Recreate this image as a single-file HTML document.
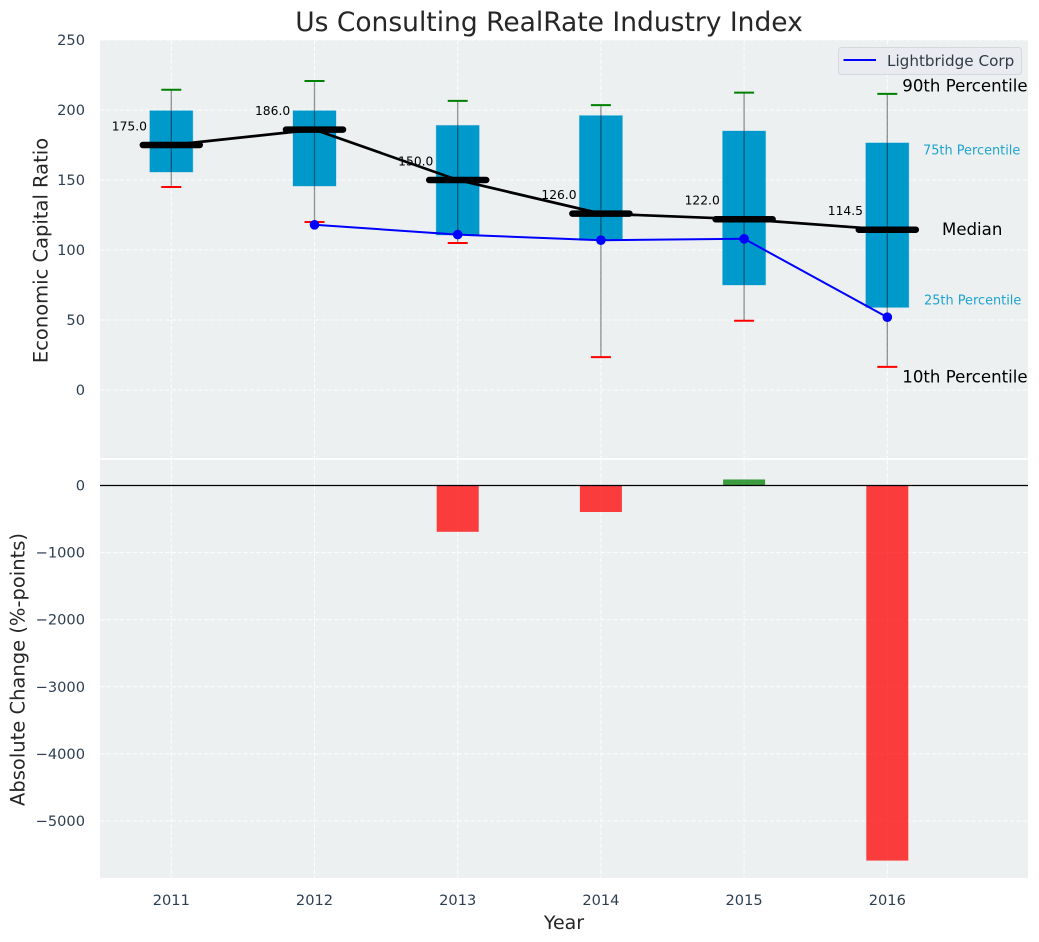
<!DOCTYPE html>
<html>
<head>
<meta charset="utf-8">
<style>
html,body{margin:0;padding:0;background:#fff;}
svg{display:block;}
text{font-family:"DejaVu Sans","Liberation Sans",sans-serif;}
</style>
</head>
<body>
<svg id="chart" xmlns="http://www.w3.org/2000/svg" width="1039" height="942" viewBox="0 0 1039 942"></svg>
<script>
const years = [2011, 2012, 2013, 2014, 2015, 2016];
const p90 = [214.5, 220.7, 206.5, 203.5, 212.4, 211.5];
const p75 = [199.5, 199.5, 189, 196, 185, 176.5];
const medians = [175, 186, 150, 126, 122, 114.5];
const p25 = [155.7, 145.7, 110.7, 107, 75, 59];
const p10 = [145, 120, 105, 23.5, 49.5, 16.5];
const companyYears = [2012, 2013, 2014, 2015, 2016];
const companyValues = [118, 111, 107, 108, 52];
const changeYears = [2013, 2014, 2015, 2016];
const changeValues = [-690, -395, 90, -5590];
const topTicks = [0, 50, 100, 150, 200, 250];
const bottomTicks = [0, -1000, -2000, -3000, -4000, -5000];

const svg = document.getElementById('chart');
const NS = 'http://www.w3.org/2000/svg';
const plotLeft = 100, plotRight = 1028;
const topTop = 40, topBottom = 458;
const botTop = 460, botBottom = 878;

function xScale(year) { return 171.3 + (year - 2011) * 143.2; }
function yTop(v) { return 390 - 1.4 * v; }
function yBottom(v) { return 485.5 - 0.0671 * v; }

function make(tag, attrs, text) {
  const el = document.createElementNS(NS, tag);
  for (const k in attrs) el.setAttribute(k, attrs[k]);
  if (text !== undefined) el.textContent = text;
  svg.appendChild(el);
  return el;
}
function fmtTick(v) { return v < 0 ? '\u2212' + Math.abs(v) : String(v); }

/* backgrounds */
let el = make('rect', {x: plotLeft, y: topTop, width: plotRight - plotLeft, height: topBottom - topTop, fill: '#ecf0f1'});


el = make('rect', {x: plotLeft, y: botTop, width: plotRight - plotLeft, height: botBottom - botTop, fill: '#ecf0f1'});



/* grid */
const gridStyle = {stroke: '#ffffff', 'stroke-width': 1, 'stroke-dasharray': '4.5,2', opacity: 0.9};
topTicks.forEach(function (t) {
  const g = make('line', Object.assign({x1: plotLeft, x2: plotRight, y1: yTop(t), y2: yTop(t)}, gridStyle));
  
  
  const l = make('text', {x: 85, y: yTop(t) + 5, 'text-anchor': 'end', 'font-size': 14.6, fill: '#2c3e50'}, fmtTick(t));
  
  
});
bottomTicks.forEach(function (t) {
  const g = make('line', Object.assign({x1: plotLeft, x2: plotRight, y1: yBottom(t), y2: yBottom(t)}, gridStyle));
  
  
  const l = make('text', {x: 85, y: yBottom(t) + 5, 'text-anchor': 'end', 'font-size': 14.6, fill: '#2c3e50'}, fmtTick(t));
  
  
});
years.forEach(function (yr) {
  const x = xScale(yr);
  let g = make('line', Object.assign({x1: x, x2: x, y1: topTop, y2: topBottom}, gridStyle));
  
  
  g = make('line', Object.assign({x1: x, x2: x, y1: botTop, y2: botBottom}, gridStyle));
  
  
  const l = make('text', {x: x, y: 905, 'text-anchor': 'middle', 'font-size': 14.6, fill: '#2c3e50'}, String(yr));
  
  
});

/* boxes */
years.forEach(function (yr, i) {
  const x = xScale(yr);
  const b = make('rect', {x: x - 21.5, y: yTop(p75[i]), width: 43, height: yTop(p25[i]) - yTop(p75[i]), fill: '#0099cc', stroke: '#0099cc', 'stroke-opacity': 0.3, 'stroke-width': 1});
  
  
});

/* whiskers and caps */
years.forEach(function (yr, i) {
  const x = xScale(yr);
  const w = make('line', {x1: x, x2: x, y1: yTop(p90[i]), y2: yTop(p10[i]), stroke: '#000000', 'stroke-opacity': 0.42, 'stroke-width': 1.3});
  
  
  const c1 = make('line', {x1: x - 10, x2: x + 10, y1: yTop(p90[i]), y2: yTop(p90[i]), stroke: '#008000', 'stroke-width': 2});
  
  
  const c2 = make('line', {x1: x - 10, x2: x + 10, y1: yTop(p10[i]), y2: yTop(p10[i]), stroke: '#ff0000', 'stroke-width': 2});
  
  
});

/* company line */
const companyPts = companyYears.map(function (yr, i) { return xScale(yr) + ',' + yTop(companyValues[i]); }).join(' ');
el = make('polyline', {points: companyPts, fill: 'none', stroke: '#0000ff', 'stroke-width': 2});


companyYears.forEach(function (yr, i) {
  const p = make('circle', {cx: xScale(yr), cy: yTop(companyValues[i]), r: 4.8, fill: '#0000ff'});
  
  
});

/* median line */
const medianPts = years.map(function (yr, i) { return xScale(yr) + ',' + yTop(medians[i]); }).join(' ');
el = make('polyline', {points: medianPts, fill: 'none', stroke: '#000000', 'stroke-width': 2.7});


years.forEach(function (yr, i) {
  const x = xScale(yr), y = yTop(medians[i]);
  const m = make('line', {x1: x - 28.5, x2: x + 28.5, y1: y, y2: y, stroke: '#000000', 'stroke-width': 6.5, 'stroke-linecap': 'round'});
  
  
  const l = make('text', {x: x - 24.3, y: y - 14.5, 'text-anchor': 'end', 'font-size': 12.3, fill: '#000000'}, medians[i].toFixed(1));
  
  
});

/* percentile annotations */
const last = years.length - 1;
const lastX = xScale(years[last]);
el = make('text', {x: lastX + 15, y: yTop(p90[last]) - 2.5, 'font-size': 16.6, fill: '#000000'}, '90th Percentile');


el = make('text', {x: lastX + 35.7, y: yTop(p75[last]) + 11.5, 'font-size': 12.9, fill: '#1fa3d1'}, '75th Percentile');


el = make('text', {x: lastX + 54.7, y: yTop(medians[last]) + 5.5, 'font-size': 16.6, fill: '#000000'}, 'Median');


el = make('text', {x: lastX + 36.7, y: yTop(p25[last]) - 3, 'font-size': 12.9, fill: '#1fa3d1'}, '25th Percentile');


el = make('text', {x: lastX + 15, y: yTop(p10[last]) + 15.5, 'font-size': 16.6, fill: '#000000'}, '10th Percentile');



/* change bars */
changeYears.forEach(function (yr, i) {
  const v = changeValues[i];
  const x = xScale(yr);
  const y0 = yBottom(0), y1 = yBottom(v);
  const b = make('rect', {x: x - 21, y: Math.min(y0, y1), width: 42, height: Math.abs(y1 - y0), fill: v < 0 ? '#ff0000' : '#008000', 'fill-opacity': 0.75});
  
  
});
el = make('line', {x1: plotLeft, x2: plotRight, y1: yBottom(0), y2: yBottom(0), stroke: '#000000', 'stroke-width': 1.2});



/* legend */
el = make('rect', {x: 838.5, y: 47.5, width: 183, height: 27, rx: 3, fill: '#e9ebf0', stroke: '#d5d8dc', 'stroke-width': 1});


el = make('line', {x1: 843.5, x2: 876, y1: 60, y2: 60, stroke: '#0000ff', 'stroke-width': 2});


el = make('text', {x: 887, y: 66, 'font-size': 15.2, fill: '#2f3b47'}, 'Lightbridge Corp');



/* titles */
el = make('text', {x: 549, y: 31, 'text-anchor': 'middle', 'font-size': 26.5, fill: '#262626'}, 'Us Consulting RealRate Industry Index');


el = make('text', {x: 564, y: 929, 'text-anchor': 'middle', 'font-size': 19, fill: '#262626'}, 'Year');


el = make('text', {'text-anchor': 'middle', 'font-size': 19.5, fill: '#262626', transform: 'translate(47.5,250.5) rotate(-90)'}, 'Economic Capital Ratio');


el = make('text', {'text-anchor': 'middle', 'font-size': 19.5, fill: '#262626', transform: 'translate(24.5,669.5) rotate(-90)'}, 'Absolute Change (%-points)');


</script>
</body>
</html>
